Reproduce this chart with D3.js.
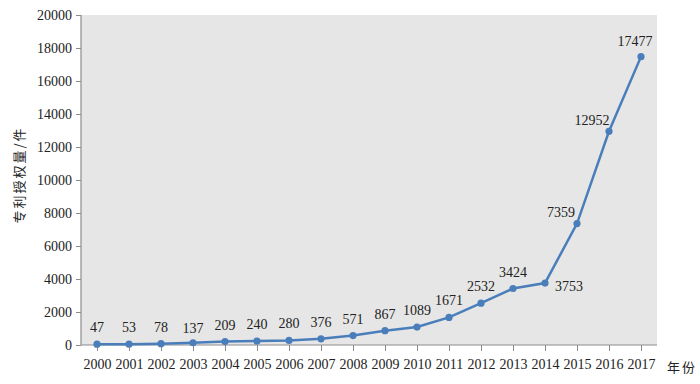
<!DOCTYPE html>
<html>
<head>
<meta charset="utf-8">
<script src="https://cdn.jsdelivr.net/npm/d3@7/dist/d3.min.js"></script>
<style>
  body { margin: 0; background: #fff; }
  text { font-family: "Liberation Serif", "Times New Roman", serif; fill: #222; }
  .cjk { font-family: "Noto Sans CJK SC", serif; }
</style>
</head>
<body>
<svg id="chart" width="700" height="384"></svg>
<script>
var years = ['2000','2001','2002','2003','2004','2005','2006','2007','2008',
    '2009','2010','2011','2012','2013','2014','2015','2016','2017'];
var patents = [47, 53, 78, 137, 209, 240, 280, 376, 571, 867, 1089, 1671,
    2532, 3424, 3753, 7359, 12952, 17477];
var yTicks = [0, 2000, 4000, 6000, 8000, 10000, 12000, 14000, 16000, 18000, 20000];

var margin = { left: 81, right: 43, top: 15, bottom: 39 };
var svg = d3.select('#chart');
var w = 700 - margin.left - margin.right,
    h = 384 - margin.top - margin.bottom;

var g = svg.append('g').attr('transform', 'translate(' + margin.left + ',' + margin.top + ')');

var x = d3.scalePoint().domain(years).range([0, w]).padding(0.5);
var y = d3.scaleLinear().domain([0, 20000]).range([h, 0]);

g.append('rect').attr('width', w).attr('height', h).attr('fill', '#e6e6e6');

var xAxis = g.append('g').attr('transform', 'translate(0,' + h + ')')
    .call(d3.axisBottom(x).tickSize(6).tickPadding(8));
var yAxis = g.append('g')
    .call(d3.axisLeft(y).tickValues(yTicks).tickFormat(d3.format('d')).tickSize(5).tickPadding(4));

[xAxis, yAxis].forEach(function(a) {
    a.attr('font-family', '"Liberation Serif", serif').attr('font-size', 14);
    a.select('.domain').attr('stroke', '#8c8c8c').attr('stroke-width', 1.2);
    a.selectAll('.tick line').attr('stroke', '#8c8c8c');
    a.selectAll('.tick text').attr('fill', '#222');
});
// keep just the axis lines, no outer ticks
yAxis.select('.domain').attr('d', 'M0,0V' + h);
xAxis.select('.domain').attr('d', 'M0,0H' + w);

var line = d3.line()
    .x(function(d, i) { return x(years[i]); })
    .y(function(d) { return y(d); });

g.append('path').datum(patents)
    .attr('fill', 'none')
    .attr('stroke', '#4a7ebb')
    .attr('stroke-width', 2.5)
    .attr('d', line);

g.selectAll('circle.pt').data(patents).enter().append('circle')
    .attr('class', 'pt')
    .attr('cx', function(d, i) { return x(years[i]); })
    .attr('cy', function(d) { return y(d); })
    .attr('r', 3.6)
    .attr('fill', '#4a7ebb');

// label placement: most sit above their point, a few are nudged aside
function labelShift(yr) {
    if (yr === '2014') return [24, 8];
    if (yr === '2015') return [-16, -7];
    if (yr === '2016') return [-17, -6];
    if (yr === '2017') return [-6, -11];
    if (yr === '2003') return [0, -10];
    return [0, -12];
}

g.selectAll('text.lbl').data(patents).enter().append('text')
    .attr('class', 'lbl')
    .attr('x', function(d, i) { return x(years[i]) + labelShift(years[i])[0]; })
    .attr('y', function(d, i) { return y(d) + labelShift(years[i])[1]; })
    .attr('text-anchor', 'middle')
    .attr('font-size', 14)
    .text(function(d) { return d; });

svg.append('text')
    .attr('class', 'cjk')
    .attr('transform', 'translate(24,' + (margin.top + h / 2 - 5) + ') rotate(-90)')
    .attr('text-anchor', 'middle')
    .attr('font-size', 13)
    .attr('letter-spacing', 2)
    .text('专利授权量/件');

svg.append('text')
    .attr('class', 'cjk')
    .attr('x', 667)
    .attr('y', 372)
    .attr('font-size', 13)
    .attr('letter-spacing', 2)
    .text('年份');
</script>
</body>
</html>
